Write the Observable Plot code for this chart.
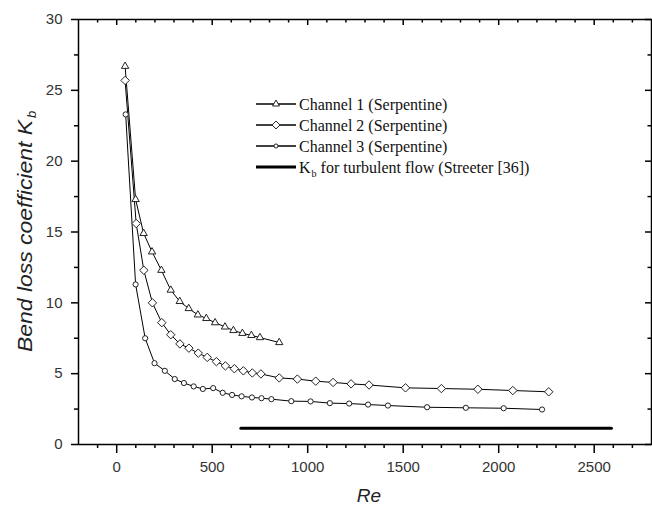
<!DOCTYPE html>
<html>
<head>
<meta charset="utf-8">
<script src="https://cdn.jsdelivr.net/npm/d3@7"></script>
<script src="https://cdn.jsdelivr.net/npm/@observablehq/plot@0.6"></script>
<style>
  html, body { margin: 0; padding: 0; background: white; }
</style>
</head>
<body>
<div id="chart"></div>
<script>
// ---- data ----
const re1 = [44, 99, 141, 185, 234, 283, 330, 377, 425, 469, 515, 567, 611, 658, 705, 750, 851];
const k1  = [26.7, 17.3, 14.9, 13.6, 12.3, 10.9, 10.1, 9.6, 9.15, 8.9, 8.6, 8.3, 8.05, 7.85, 7.7, 7.55, 7.2];

const re2 = [44, 102, 142, 187, 236, 283, 331, 378, 427, 474, 522, 569, 616, 663, 710, 755, 851, 946, 1042, 1133, 1227, 1321, 1512, 1700, 1891, 2074, 2262];
const k2  = [25.7, 15.6, 12.3, 10.0, 8.6, 7.75, 7.1, 6.8, 6.45, 6.15, 5.85, 5.55, 5.35, 5.2, 5.05, 4.98, 4.7, 4.62, 4.47, 4.38, 4.28, 4.2, 4.0, 3.95, 3.9, 3.81, 3.72];

const re3 = [47, 99, 149, 198, 252, 304, 352, 403, 451, 505, 555, 604, 654, 708, 758, 810, 914, 1015, 1116, 1217, 1316, 1420, 1625, 1828, 2026, 2227];
const k3  = [23.3, 11.3, 7.5, 5.74, 5.2, 4.62, 4.34, 4.1, 3.92, 3.98, 3.65, 3.5, 3.4, 3.32, 3.27, 3.2, 3.06, 3.04, 2.92, 2.89, 2.82, 2.75, 2.63, 2.59, 2.56, 2.47];

const reTurb = [650, 2590];
const kTurb  = [1.15, 1.15];

const seriesNames = ["Channel 1 (Serpentine)", "Channel 2 (Serpentine)", "Channel 3 (Serpentine)"];
const turbName = ["K", "b", " for turbulent flow (Streeter [36])"];

const xDomain = [-200, 2800];
const yDomain = [0, 30];
const xMajor = [0, 500, 1000, 1500, 2000, 2500];
const xMinor = [-100, 100, 200, 300, 400, 600, 700, 800, 900, 1100, 1200, 1300, 1400, 1600, 1700, 1800, 1900, 2100, 2200, 2300, 2400, 2600, 2700];
const yMajor = [0, 5, 10, 15, 20, 25, 30];
const yMinor = [2.5, 7.5, 12.5, 17.5, 22.5, 27.5];
const xTitle = "Re";
const yTitle = ["Bend loss coefficient K", "b"];

// ---- layout ----
const W = 652, H = 507;
const mL = 78, mR = 1, mT = 19, mB = 63;
const pW = W - mL - mR, pH = H - mT - mB;
const ink = "black";
const axW = 1.5;

const toRows = (xs, ys) => xs.map((x, i) => ({x, y: ys[i]}));
const s1 = toRows(re1, k1), s2 = toRows(re2, k2), s3 = toRows(re3, k3), st = toRows(reTurb, kTurb);

const plot = Plot.plot({
  width: W, height: H,
  marginLeft: mL, marginRight: mR, marginTop: mT, marginBottom: mB,
  x: {domain: xDomain},
  y: {domain: yDomain},
  style: {fontFamily: "'Liberation Sans', Arial, sans-serif", fontSize: "15px", color: "#333", background: "white"},
  marks: [
    // bottom ticks (outward)
    Plot.ruleX(xMajor, {insetTop: pH, insetBottom: -9, stroke: ink, strokeWidth: axW}),
    Plot.ruleX(xMinor, {insetTop: pH, insetBottom: -4, stroke: ink, strokeWidth: axW}),
    // top ticks (inward)
    Plot.ruleX(xMajor, {insetTop: 0, insetBottom: pH - 6, stroke: ink, strokeWidth: axW}),
    Plot.ruleX(xMinor, {insetTop: 0, insetBottom: pH - 3.5, stroke: ink, strokeWidth: axW}),
    // left ticks (outward)
    Plot.ruleY(yMajor, {insetLeft: -7, insetRight: pW, stroke: ink, strokeWidth: axW}),
    Plot.ruleY(yMinor, {insetLeft: -4, insetRight: pW, stroke: ink, strokeWidth: axW}),
    // right ticks (inward)
    Plot.ruleY(yMajor, {insetLeft: pW - 6, insetRight: 0, stroke: ink, strokeWidth: axW}),
    Plot.ruleY(yMinor, {insetLeft: pW - 3.5, insetRight: 0, stroke: ink, strokeWidth: axW}),
    Plot.axisX(xMajor, {tickSize: 0, tickPadding: 17, label: null, fill: "#333", tickFormat: d => String(d)}),
    Plot.axisY(yMajor, {tickSize: 0, tickPadding: 16, label: null, fill: "#333", tickFormat: d => String(d)}),
    Plot.frame({stroke: ink, strokeWidth: axW}),
    // turbulent reference line
    Plot.line(st, {x: "x", y: "y", stroke: "black", strokeWidth: 3}),
    // series lines
    Plot.line(s1, {x: "x", y: "y", stroke: ink, strokeWidth: 1}),
    Plot.line(s2, {x: "x", y: "y", stroke: ink, strokeWidth: 1}),
    Plot.line(s3, {x: "x", y: "y", stroke: ink, strokeWidth: 1}),
    // markers
    Plot.dot(s3, {x: "x", y: "y", symbol: "circle", r: 2.6, stroke: "#222", fill: "white", strokeWidth: 1}),
    Plot.dot(s2, {x: "x", y: "y", symbol: "diamond2", r: 3.8, stroke: "#222", fill: "white", strokeWidth: 1}),
    Plot.dot(s1, {x: "x", y: "y", symbol: "triangle2", r: 3.5, stroke: "#222", fill: "white", strokeWidth: 1})
  ]
});

document.getElementById("chart").appendChild(plot);
const svg = d3.select(plot);
const sans = "'Liberation Sans', Arial, sans-serif";

// ---- axis titles ----
svg.append("text")
  .attr("transform", "translate(31.5,352) rotate(-90)")
  .attr("x", 0).attr("y", 0)
  .attr("text-anchor", "start")
  .attr("font-family", sans).attr("font-style", "italic").attr("font-size", 20)
  .attr("fill", "#222")
  .attr("textLength", 232).attr("lengthAdjust", "spacingAndGlyphs")
  .text(yTitle[0]);
svg.append("text")
  .attr("transform", "translate(31.5,352) rotate(-90)")
  .attr("x", 234).attr("y", 4)
  .attr("text-anchor", "start")
  .attr("font-family", sans).attr("font-style", "italic").attr("font-size", 13)
  .attr("fill", "#222")
  .text(yTitle[1]);

svg.append("text")
  .attr("x", 369).attr("y", 502)
  .attr("text-anchor", "middle")
  .attr("font-family", sans).attr("font-style", "italic").attr("font-size", 19)
  .attr("fill", "#222")
  .text(xTitle);

// ---- legend ----
const lg = svg.append("g")
  .attr("font-family", "'Liberation Serif', 'Times New Roman', serif")
  .attr("font-size", 16).attr("fill", "#111").attr("text-anchor", "start");
const rowY = [104, 125, 146, 167];
const symbols = [
  d3.symbol(d3.symbolTriangle2, 34)(),
  d3.symbol(d3.symbolDiamond2, 40)(),
  d3.symbol(d3.symbolCircle, 13)()
];
seriesNames.forEach((name, i) => {
  const y = rowY[i];
  lg.append("line").attr("x1", 256).attr("x2", 296).attr("y1", y).attr("y2", y)
    .attr("stroke", "black").attr("stroke-width", 1.3);
  lg.append("path").attr("d", symbols[i]).attr("transform", `translate(276,${y})`)
    .attr("fill", "white").attr("stroke", "#222").attr("stroke-width", 1);
  lg.append("text").attr("x", 299).attr("y", y + 5.5).text(name);
});
{
  const y = rowY[3];
  lg.append("line").attr("x1", 256).attr("x2", 296).attr("y1", y).attr("y2", y)
    .attr("stroke", "black").attr("stroke-width", 3);
  const t = lg.append("text").attr("x", 299).attr("y", y + 5.5);
  t.append("tspan").text(turbName[0]);
  t.append("tspan").attr("font-size", 10).attr("dy", 4).attr("dx", 1).text(turbName[1]);
  t.append("tspan").attr("dy", -4).text(turbName[2]);
}
</script>
</body>
</html>
